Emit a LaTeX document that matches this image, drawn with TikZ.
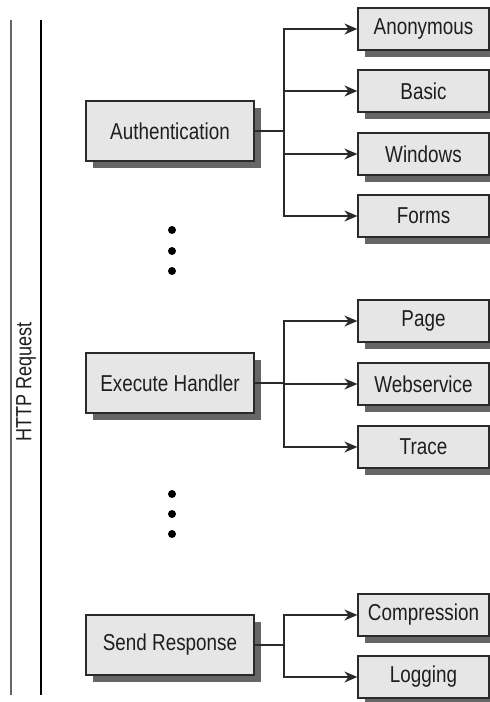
\documentclass[tikz,border=0pt]{standalone}
\usepackage{fontspec}
\setmainfont[FakeStretch=0.82]{Liberation Sans}
\usetikzlibrary{arrows.meta,shadows}
\definecolor{boxfill}{HTML}{E6E6E6}
\definecolor{boxline}{HTML}{2A2A2A}
\definecolor{shadowc}{HTML}{666666}
\definecolor{txt}{HTML}{1E1E1E}
\tikzset{
  base/.style={draw=boxline, line width=1.2pt, fill=boxfill, inner sep=0pt,
    text=txt, font=\fontsize{23}{26}\selectfont,
    drop shadow={shadow xshift=7pt, shadow yshift=-7pt, fill=shadowc, opacity=1}},
  mainbox/.style={base, minimum width=168pt, minimum height=60pt},
  subbox/.style={base, minimum width=131pt, minimum height=42pt},
  conn/.style={draw=boxline, line width=1.8pt},
  arr/.style={conn, -{Stealth[length=13pt,width=11pt]}},
  dotc/.style={circle, fill=black, inner sep=0pt, minimum size=8pt}
}
\begin{document}
\begin{tikzpicture}[x=1pt,y=-1pt]
\useasboundingbox (0,0) rectangle (490,702);
% left band
\coordinate (l1t) at (11,20); \coordinate (l1b) at (11,695);
\coordinate (l2t) at (41,20); \coordinate (l2b) at (41,695);
\draw[draw=shadowc, line width=2pt] (l1t) -- (l1b);
\draw[draw=black, line width=1.5pt] (l2t) -- (l2b);
\node[rotate=90, text=txt, font=\fontsize{22}{24}\selectfont] (http) at (26,382) {HTTP Request};

% main boxes
\node[mainbox] (auth) at (170,131) {Authentication};
\node[mainbox] (exec) at (170,383) {Execute Handler};
\node[mainbox] (send) at (170,645) {Send Response};

% sub boxes
\node[subbox] (anon) at (423.5,29) {Anonymous};
\node[subbox] (basic) at (423.5,91) {Basic};
\node[subbox] (win) at (423.5,154) {Windows};
\node[subbox] (forms) at (423.5,216) {Forms};
\node[subbox] (page) at (423.5,321) {Page};
\node[subbox] (ws) at (423.5,384) {Webservice};
\node[subbox] (trace) at (423.5,447) {Trace};
\node[subbox] (comp) at (423.5,615) {Compression};
\node[subbox] (log) at (423.5,677) {Logging};

% trunks
\coordinate (t1) at (284,131);
\coordinate (t2) at (284,383);
\coordinate (t3) at (284,645);
\draw[conn] (auth.east) -- (t1);
\draw[conn] (exec.east) -- (t2);
\draw[conn] (send.east) -- (t3);
\foreach \c in {anon,basic,win,forms}{\draw[arr] (t1) |- (\c.west);}
\foreach \c in {page,ws,trace}{\draw[arr] (t2) |- (\c.west);}
\foreach \c in {comp,log}{\draw[arr] (t3) |- (\c.west);}

% dots
\node[dotc] (d1) at (172,230) {};
\node[dotc] (d2) at (172,251) {};
\node[dotc] (d3) at (172,271) {};
\node[dotc] (d4) at (172,494) {};
\node[dotc] (d5) at (172,514) {};
\node[dotc] (d6) at (172,534) {};
\end{tikzpicture}
\end{document}
